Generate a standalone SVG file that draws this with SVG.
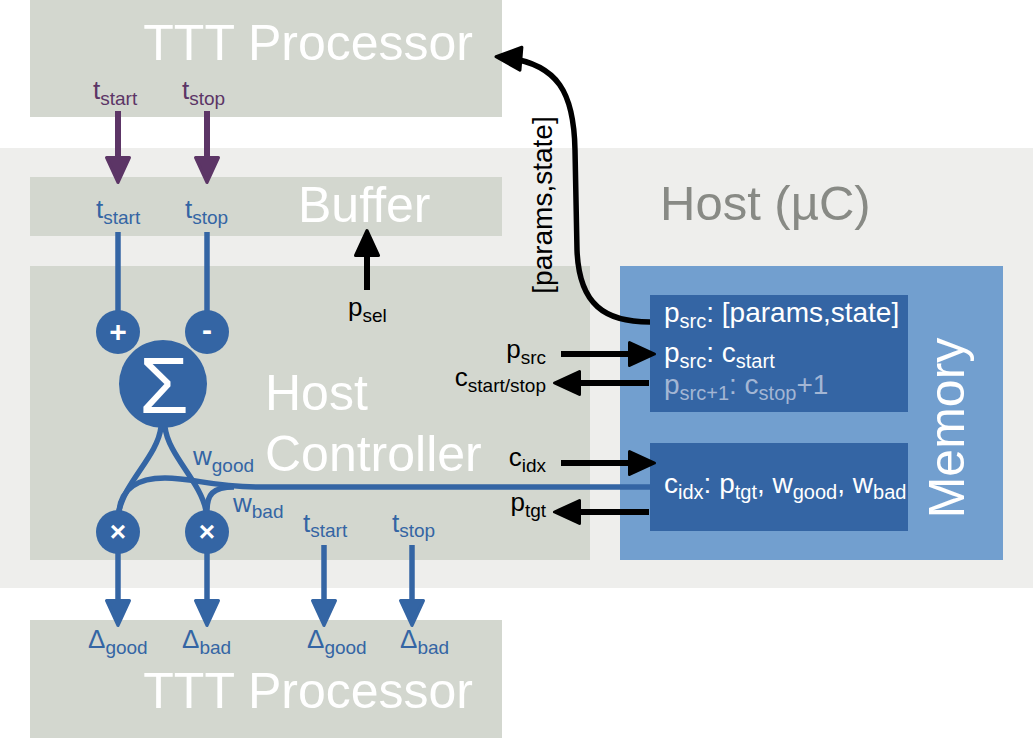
<svg xmlns="http://www.w3.org/2000/svg" width="1033" height="738" viewBox="0 0 1033 738">
<defs>
<style>
text { font-family: "Liberation Sans", Arial, Helvetica, sans-serif; }
.big { font-size: 50px; fill: #ffffff; }
.lbl { font-size: 26px; }
.sub { font-size: 19px; }
.mem { font-size: 28px; fill: #ffffff; }
.msub { font-size: 20px; }
.gray { fill: #d3d7cf; }
.blue { fill: #3465a4; }
.pl { stroke: #5c3566; stroke-width: 6; fill: none; }
.bl { stroke: #3465a4; stroke-width: 5.5; fill: none; }
.kl { stroke: #000000; stroke-width: 6; fill: none; }
.sym { fill: #ffffff; font-weight: bold; text-anchor: middle; }
.sigma { fill: #ffffff; font-weight: normal; text-anchor: middle; }
</style>
<marker id="ak" markerUnits="userSpaceOnUse" viewBox="-3 -16 34 32" markerWidth="34" markerHeight="32" refX="21" refY="0" orient="auto">
<path d="M0,-11.5 L25,0 L0,11.5 z" fill="#000000" stroke="#000000" stroke-width="3" stroke-linejoin="round"/>
</marker>
<marker id="ap" markerUnits="userSpaceOnUse" viewBox="-3 -16 34 32" markerWidth="34" markerHeight="32" refX="21" refY="0" orient="auto">
<path d="M0,-11.5 L25,0 L0,11.5 z" fill="#5c3566" stroke="#5c3566" stroke-width="3" stroke-linejoin="round"/>
</marker>
<marker id="abl" markerUnits="userSpaceOnUse" viewBox="-3 -16 34 32" markerWidth="34" markerHeight="32" refX="21" refY="0" orient="auto">
<path d="M0,-11.5 L25,0 L0,11.5 z" fill="#3465a4" stroke="#3465a4" stroke-width="3" stroke-linejoin="round"/>
</marker>
</defs>

<rect x="0" y="0" width="1033" height="738" fill="#ffffff"/>

<g id="host">
<rect x="0" y="148" width="1033" height="440" fill="#eeeeec"/>
<text x="660" y="220" font-size="49" fill="#888a85">Host (µC)</text>
</g>

<g id="ttt-top">
<rect class="gray" x="30" y="0" width="472" height="117"/>
<text class="big" x="473" y="60" text-anchor="end">TTT Processor</text>
<text class="lbl" x="93" y="99" fill="#5c3566">t<tspan class="sub" dy="6">start</tspan></text>
<text class="lbl" x="182" y="99" fill="#5c3566">t<tspan class="sub" dy="6">stop</tspan></text>
</g>

<g id="buffer">
<rect class="gray" x="30" y="177" width="472" height="59"/>
<text class="big" x="298" y="222">Buffer</text>
<text class="lbl" x="96" y="218" fill="#3465a4">t<tspan class="sub" dy="6">start</tspan></text>
<text class="lbl" x="185" y="218" fill="#3465a4">t<tspan class="sub" dy="6">stop</tspan></text>
</g>

<g id="host-controller">
<rect class="gray" x="30" y="266" width="560" height="294"/>
<text class="big" x="265" y="410">Host</text>
<text class="big" x="265" y="471">Controller</text>
<text class="lbl" x="348" y="316" fill="#000000">p<tspan class="sub" dy="6">sel</tspan></text>
<text class="lbl" x="193" y="465" fill="#3465a4">w<tspan class="sub" dy="7">good</tspan></text>
<text class="lbl" x="233" y="512" fill="#3465a4">w<tspan class="sub" dy="6">bad</tspan></text>
<text class="lbl" x="303" y="532" fill="#3465a4">t<tspan class="sub" dy="5">start</tspan></text>
<text class="lbl" x="392" y="532" fill="#3465a4">t<tspan class="sub" dy="5">stop</tspan></text>
<text class="lbl" x="546" y="358" text-anchor="end" fill="#000000">p<tspan class="sub" dy="6">src</tspan></text>
<text class="lbl" x="546" y="386" text-anchor="end" fill="#000000">c<tspan class="sub" dy="6">start/stop</tspan></text>
<text class="lbl" x="546" y="466" text-anchor="end" fill="#000000">c<tspan class="sub" dy="6">idx</tspan></text>
<text class="lbl" x="546" y="511" text-anchor="end" fill="#000000">p<tspan class="sub" dy="6">tgt</tspan></text>
</g>

<g id="plus-node">
<circle class="blue" cx="118" cy="332" r="22"/>
<text class="sym" x="118" y="342" font-size="30">+</text>
</g>
<g id="minus-node">
<circle class="blue" cx="207" cy="332" r="22"/>
<text class="sym" x="207" y="340" font-size="30">-</text>
</g>
<g id="sum-node">
<circle class="blue" cx="163" cy="384" r="44"/>
<text class="sigma" x="164" y="413" font-size="80">Σ</text>
</g>
<g id="mult-good">
<circle class="blue" cx="118" cy="532" r="22"/>
<text class="sym" x="118" y="541" font-size="28">×</text>
</g>
<g id="mult-bad">
<circle class="blue" cx="207" cy="532" r="22"/>
<text class="sym" x="207" y="541" font-size="28">×</text>
</g>

<g id="memory">
<rect x="620" y="266" width="383" height="294" fill="#729fcf"/>
<text transform="translate(964,428) rotate(-90)" text-anchor="middle" font-size="50" fill="#ffffff">Memory</text>
</g>
<g id="memory-src">
<rect class="blue" x="650" y="295" width="258" height="117"/>
<text class="mem" x="664" y="322">p<tspan class="msub" dy="6">src</tspan><tspan dy="-6">: [params,state]</tspan></text>
<text class="mem" x="664" y="362">p<tspan class="msub" dy="6">src</tspan><tspan dy="-6">: c</tspan><tspan class="msub" dy="6">start</tspan></text>
<text class="mem" x="664" y="394" style="fill:#a3b6d4">p<tspan class="msub" dy="6">src+1</tspan><tspan dy="-6">: c</tspan><tspan class="msub" dy="6">stop</tspan><tspan dy="-6">+1</tspan></text>
</g>
<g id="memory-idx">
<rect class="blue" x="650" y="443" width="258" height="88"/>
<text class="mem" x="664" y="493">c<tspan class="msub" dy="6">idx</tspan><tspan dy="-6">: p</tspan><tspan class="msub" dy="6">tgt</tspan><tspan dy="-6">, w</tspan><tspan class="msub" dy="6">good</tspan><tspan dy="-6">, w</tspan><tspan class="msub" dy="6">bad</tspan></text>
</g>

<g id="ttt-bottom">
<rect class="gray" x="30" y="620" width="472" height="118"/>
<text class="big" x="473" y="708" text-anchor="end">TTT Processor</text>
<text class="lbl" x="88" y="648" fill="#3465a4">Δ<tspan class="sub" dy="6">good</tspan></text>
<text class="lbl" x="182" y="648" fill="#3465a4">Δ<tspan class="sub" dy="6">bad</tspan></text>
<text class="lbl" x="307" y="648" fill="#3465a4">Δ<tspan class="sub" dy="6">good</tspan></text>
<text class="lbl" x="400" y="648" fill="#3465a4">Δ<tspan class="sub" dy="6">bad</tspan></text>
</g>

<g id="connectors">
<line class="pl" x1="118" y1="111" x2="118" y2="178.5" marker-end="url(#ap)"/>
<line class="pl" x1="207" y1="111" x2="207" y2="178.5" marker-end="url(#ap)"/>
<line class="bl" x1="118" y1="232" x2="118" y2="311"/>
<line class="bl" x1="207" y1="232" x2="207" y2="311"/>
<line class="kl" x1="367" y1="290" x2="367" y2="234.5" marker-end="url(#ak)"/>
<path class="bl" d="M161,427 C158,455 125,482 119,511"/>
<path class="bl" d="M165,427 C168,455 201,482 206,511"/>
<path class="bl" d="M119,511 C121,490 136,478 165,478 C195,478 210,487 260,487 L650,487"/>
<path class="bl" d="M207,511 C207,495 212,487 234,487"/>
<line class="bl" x1="118" y1="553" x2="118" y2="621.5" marker-end="url(#abl)"/>
<line class="bl" x1="207" y1="553" x2="207" y2="621.5" marker-end="url(#abl)"/>
<line class="bl" x1="324" y1="545" x2="324" y2="621.5" marker-end="url(#abl)"/>
<line class="bl" x1="412" y1="545" x2="412" y2="621.5" marker-end="url(#abl)"/>
<line class="kl" x1="561" y1="354" x2="650.5" y2="354" marker-end="url(#ak)"/>
<line class="kl" x1="649" y1="383" x2="558.5" y2="383" marker-end="url(#ak)"/>
<line class="kl" x1="561" y1="463" x2="650.5" y2="463" marker-end="url(#ak)"/>
<line class="kl" x1="649" y1="512" x2="558.5" y2="512" marker-end="url(#ak)"/>
<path d="M650,322 C605,322 579,305 577,250 L575,150 C574,95 560,62 500,57" fill="none" stroke="#000000" stroke-width="5.5" marker-end="url(#ak)"/>
<text transform="translate(552,205) rotate(-90)" text-anchor="middle" font-size="28" fill="#000000">[params,state]</text>
</g>
</svg>
